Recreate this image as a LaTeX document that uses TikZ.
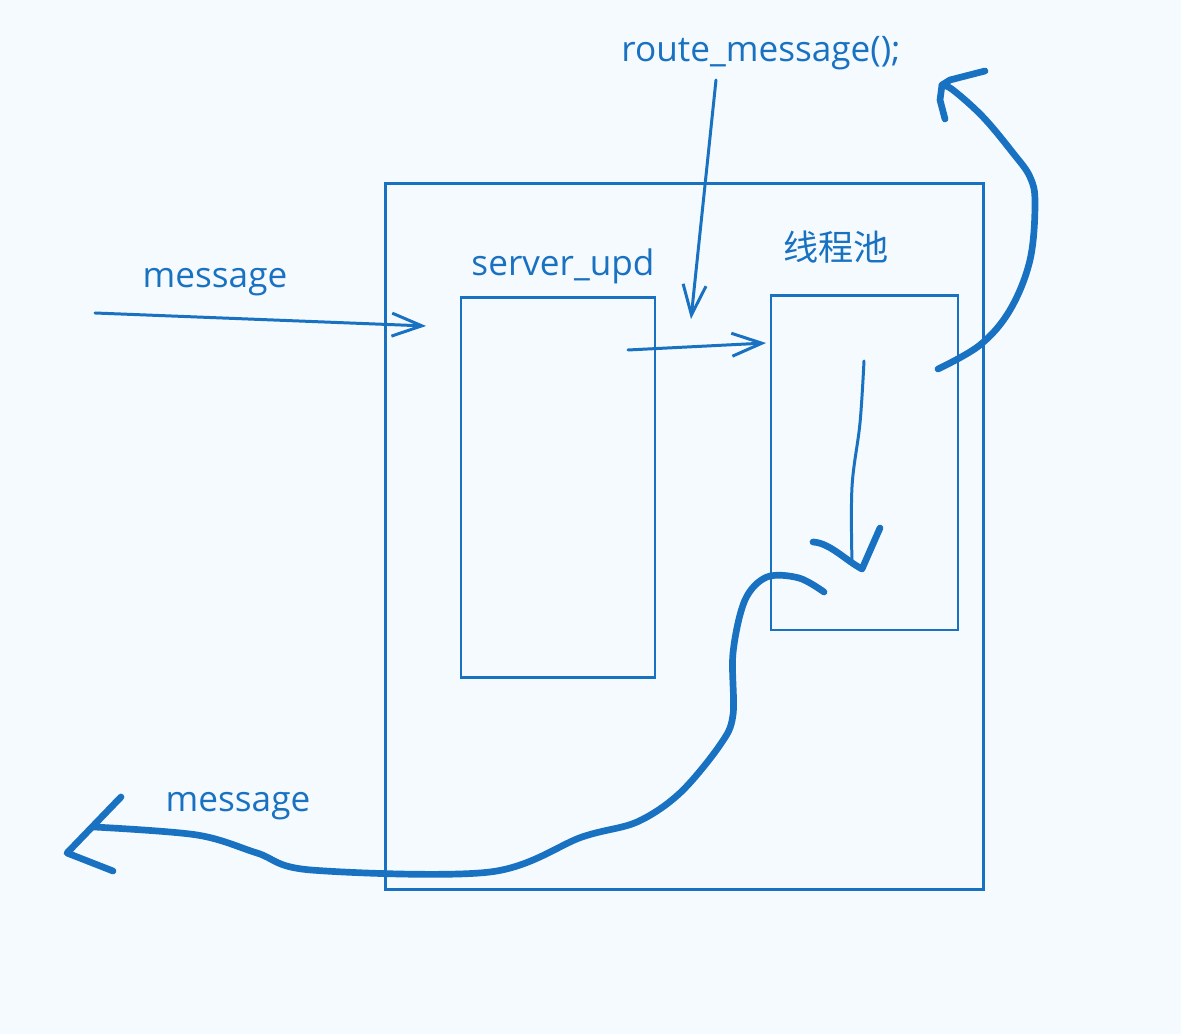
\documentclass[tikz,border=0pt]{standalone}
\usepackage{fontspec}
\setmainfont{Open Sans}
\newfontfamily\cjk{Noto Sans CJK SC}
\usetikzlibrary{arrows.meta}
\definecolor{penblue}{HTML}{1971C2}
\definecolor{paper}{HTML}{F5FAFE}
\tikzset{
  box/.style={draw=penblue, line width=0.8pt, inner sep=0pt, outer sep=0pt},
  label/.style={text=penblue, font=\fontsize{10pt}{12pt}\selectfont, anchor=base},
  thin arrow/.style={draw=penblue, line width=0.85pt, line cap=round,
    -{Straight Barb[length=0.3cm,width=0.23cm]}},
  thick pen/.style={draw=penblue, line width=1.9pt, line cap=round, line join=round}
}
\begin{document}
\begin{tikzpicture}[x=0.01cm,y=-0.01cm]
	\fill[paper] (0,0) rectangle (1181,1034);
	% boxes
	\node[box, minimum width=5.97cm, minimum height=7.05cm] (outer) at (684.5,536.5) {};
	\node[box, minimum width=1.94cm, minimum height=3.79cm] (server) at (558,487.5) {};
	\node[box, minimum width=1.87cm, minimum height=3.34cm] (pool) at (864.5,463) {};
	% labels
	\node[label] (msgin) at (215,288) {message};
	\node[label] (servername) at (563,276) {server\_upd};
	\node[label, anchor=center] (poolname) at (836,247) {\cjk 线程池};
	\node[label] (route) at (761,62) {route\_message();};
	\node[label] (msgout) at (238,812) {message};
	% straight arrows
	\coordinate (inS) at (95,313);
	\coordinate (inE) at (426,326);
	\coordinate (rtS) at (716,80);
	\coordinate (rtE) at (691,319);
	\coordinate (spS) at (628,350);
	\coordinate (spE) at (766,343);
	\draw[thin arrow] (inS) -- (inE);
	\draw[thin arrow] (rtS) -- (rtE);
	\draw[thin arrow] (spS) -- (spE);
	% arrow inside the pool
	\coordinate (dnS) at (864,361);
	\coordinate (dnE) at (852,562);
	\coordinate (dnT) at (862,569);
	\draw[penblue, line width=0.85pt, line cap=round] plot[smooth, tension=0.6] coordinates {(dnS) (860,423) (852,487) (dnE)};
	\draw[thick pen] (813,542) .. controls (830,543) and (845,560) .. (dnT) -- (880,528);
	% out to the top right
	\coordinate (upS) at (938,369);
	\coordinate (upT) at (942,85);
	\draw[thick pen] plot[smooth, tension=0.6] coordinates {(upS) (980,345) (1010,310) (1030,260) (1035,203) (1030,177) (1013,153) (983,117) (953,90) (upT)};
	\draw[thick pen] (985,71) -- (950,80) -- (upT) -- (940,100) -- (945,119);
	% back out to the left
	\coordinate (bkS) at (824,592);
	\coordinate (bkE) at (94,827);
	\coordinate (bkT) at (67,853);
	\draw[thick pen] plot[smooth, tension=0.55] coordinates {(bkS) (799,578) (767,577) (745,600) (733,653) (733,715) (720,745) (680,793) (637,822) (582,837) (490,872) (311,870) (257,853) (197,835) (bkE)};
	\draw[thick pen] (121,797) -- (bkT) -- (113,871);
\end{tikzpicture}
\end{document}
